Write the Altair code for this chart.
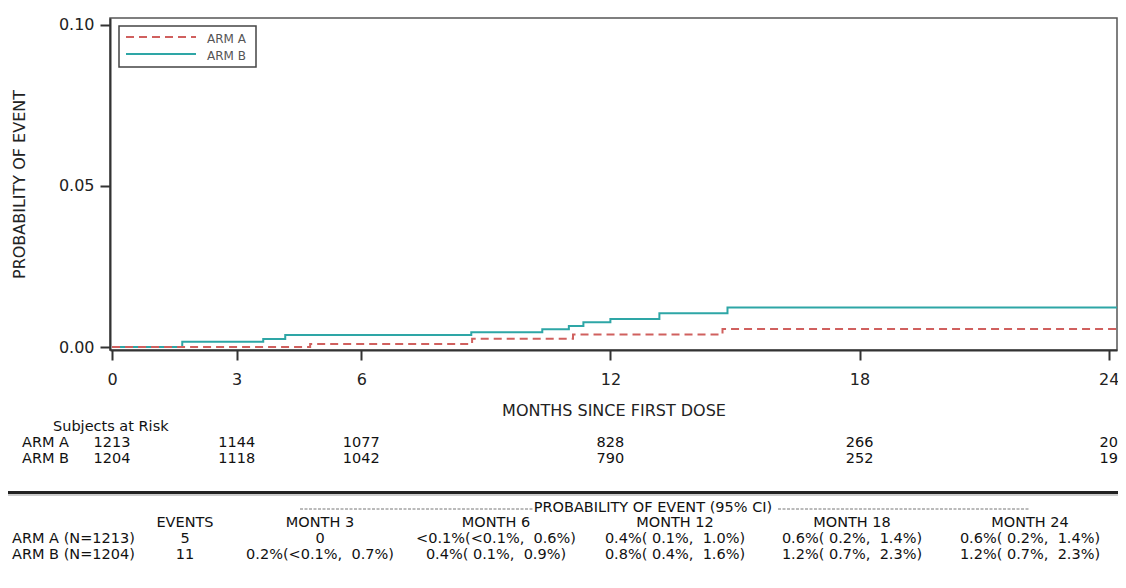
import altair as alt
import pandas as pd

# ---------------- data ----------------
arm_names = ["ARM A", "ARM B"]

time_a = [0, 4.77, 8.67, 11.1, 14.7, 24.2]
prob_a = [0, 0.0009, 0.0026, 0.0039, 0.0056, 0.0056]

time_b = [0, 1.69, 3.64, 4.17, 8.65, 10.36, 11.0, 11.35, 12.0, 13.18, 14.82, 24.2]
prob_b = [0, 0.0016, 0.0025, 0.0037, 0.0046, 0.0055, 0.0065, 0.0077, 0.0087, 0.0105, 0.0123, 0.0123]

risk_months = [0, 3, 6, 12, 18, 24]
risk_a = [1213, 1144, 1077, 828, 266, 20]
risk_b = [1204, 1118, 1042, 790, 252, 19]

tbl_arms = ["ARM A (N=1213)", "ARM B (N=1204)"]
tbl_events = ["5", "11"]
tbl_months = ["MONTH 3", "MONTH 6", "MONTH 12", "MONTH 18", "MONTH 24"]
tbl_a = ["0", "<0.1%(<0.1%,  0.6%)", "0.4%( 0.1%,  1.0%)", "0.6%( 0.2%,  1.4%)", "0.6%( 0.2%,  1.4%)"]
tbl_b = ["0.2%(<0.1%,  0.7%)", "0.4%( 0.1%,  0.9%)", "0.8%( 0.4%,  1.6%)", "1.2%( 0.7%,  2.3%)", "1.2%( 0.7%,  2.3%)"]
tbl_title = "PROBABILITY OF EVENT (95% CI)"

# ---------------- style ----------------
RED = "#D0605E"
TEAL = "#2EA6A6"
FONT = "DejaVu Sans"
TXT = "#111111"
W, H = 1007, 332
TFS = 14.5


def nb(s):
    return s.replace(" ", "\u00a0")


xenc = alt.X(
    "time:Q",
    scale=alt.Scale(domain=[-0.05, 24.2], nice=False, zero=False),
    axis=alt.Axis(values=risk_months, title="MONTHS SINCE FIRST DOSE", labelPadding=11, titlePadding=15),
)
yenc = alt.Y(
    "prob:Q",
    scale=alt.Scale(domain=[-0.00093, 0.10217], nice=False, zero=False),
    axis=alt.Axis(values=[0, 0.05, 0.1], format=".2f", title="PROBABILITY OF EVENT", labelPadding=6, titlePadding=31),
)

df_a = pd.DataFrame({"time": time_a, "prob": prob_a})
df_b = pd.DataFrame({"time": time_b, "prob": prob_b})

line_b = alt.Chart(df_b).mark_line(interpolate="step-after", clip=True, color=TEAL, strokeWidth=2).encode(x=xenc, y=yenc)
line_a = alt.Chart(df_a).mark_line(interpolate="step-after", clip=True, color=RED, strokeWidth=2, strokeDash=[8, 5]).encode(x=xenc, y=yenc)

one = pd.DataFrame({"k": [0]})


def txt(s, x, y, align="left", size=TFS, color=TXT):
    return alt.Chart(one).mark_text(font=FONT, fontSize=size, color=color, align=align,
                                    baseline="middle", text=s).encode(x=alt.value(x), y=alt.value(y))


# ---------------- legend (manual box) ----------------
leg_box = alt.Chart(one).mark_rect(fill="white", stroke="#444", strokeWidth=1.5).encode(
    x=alt.value(9), x2=alt.value(146), y=alt.value(8), y2=alt.value(49))
leg_a = alt.Chart(one).mark_rule(color=RED, strokeWidth=2, strokeDash=[8, 5]).encode(
    x=alt.value(16), x2=alt.value(86), y=alt.value(19))
leg_b = alt.Chart(one).mark_rule(color=TEAL, strokeWidth=2).encode(
    x=alt.value(16), x2=alt.value(86), y=alt.value(36))
leg_ta = txt(nb(arm_names[0]), 97, 21, size=12, color="#555")
leg_tb = txt(nb(arm_names[1]), 97, 38, size=12, color="#555")

# ---------------- subjects at risk ----------------
risk_df = pd.DataFrame({"time": risk_months * 2, "n": risk_a + risk_b,
                        "arm": ["ARM A"] * 6 + ["ARM B"] * 6})
risk_title = txt("Subjects at Risk", -57, 409)
risk_lab_a = txt(nb(arm_names[0]), -88, 425)
risk_lab_b = txt(nb(arm_names[1]), -88, 441)
risk_num_a = alt.Chart(risk_df[risk_df.arm == "ARM A"]).mark_text(
    font=FONT, fontSize=TFS, color=TXT, baseline="middle").encode(x=xenc, y=alt.value(425), text="n:Q")
risk_num_b = alt.Chart(risk_df[risk_df.arm == "ARM B"]).mark_text(
    font=FONT, fontSize=TFS, color=TXT, baseline="middle").encode(x=xenc, y=alt.value(441), text="n:Q")

# ---------------- bottom table ----------------
rule1 = alt.Chart(one).mark_rule(color="#222", strokeWidth=3).encode(x=alt.value(-110), x2=alt.value(1008), y=alt.value(474.5))
rule2 = alt.Chart(one).mark_rule(color="#999", strokeWidth=1).encode(x=alt.value(-110), x2=alt.value(1008), y=alt.value(477))
dash1 = alt.Chart(one).mark_rule(color="#777", strokeWidth=1, strokeDash=[3, 1.5]).encode(x=alt.value(190), x2=alt.value(423), y=alt.value(491))
dash2 = alt.Chart(one).mark_rule(color="#777", strokeWidth=1, strokeDash=[3, 1.5]).encode(x=alt.value(668), x2=alt.value(920), y=alt.value(491))
ttl = txt(tbl_title, 543, 490, align="center")

ROWY = [505, 521, 537]
col_x = [75, 210, 386, 565, 742, 920]

layers = [leg_box, leg_a, leg_b, leg_ta, leg_tb, risk_title, risk_lab_a, risk_lab_b, risk_num_a, risk_num_b,
          rule1, rule2, dash1, dash2, ttl]

for i, s in enumerate(tbl_arms):
    layers.append(txt(nb(s), -98, ROWY[i + 1]))

headers = ["EVENTS"] + tbl_months
col_a = [tbl_events[0]] + tbl_a
col_b = [tbl_events[1]] + tbl_b
for j in range(6):
    for r, s in enumerate([headers[j], col_a[j], col_b[j]]):
        layers.append(txt(nb(s), col_x[j], ROWY[r], align="center"))

chart = alt.layer(line_b, line_a, *layers).properties(
    width=W, height=H,
    autosize=alt.AutoSizeParams(type="none"),
    padding={"left": 102, "top": 10, "right": 1, "bottom": 230},
).configure_axis(
    labelFont=FONT, labelFontSize=16, labelColor="#222",
    titleFont=FONT, titleFontSize=16, titleFontWeight="normal", titleColor="#222",
    domainColor="#333", domainWidth=2, tickColor="#333", tickWidth=2, tickSize=10, grid=False,
).configure_view(stroke="#555", strokeWidth=1.5)

chart.save("out.html", embed_options={"renderer": "svg", "actions": False})
